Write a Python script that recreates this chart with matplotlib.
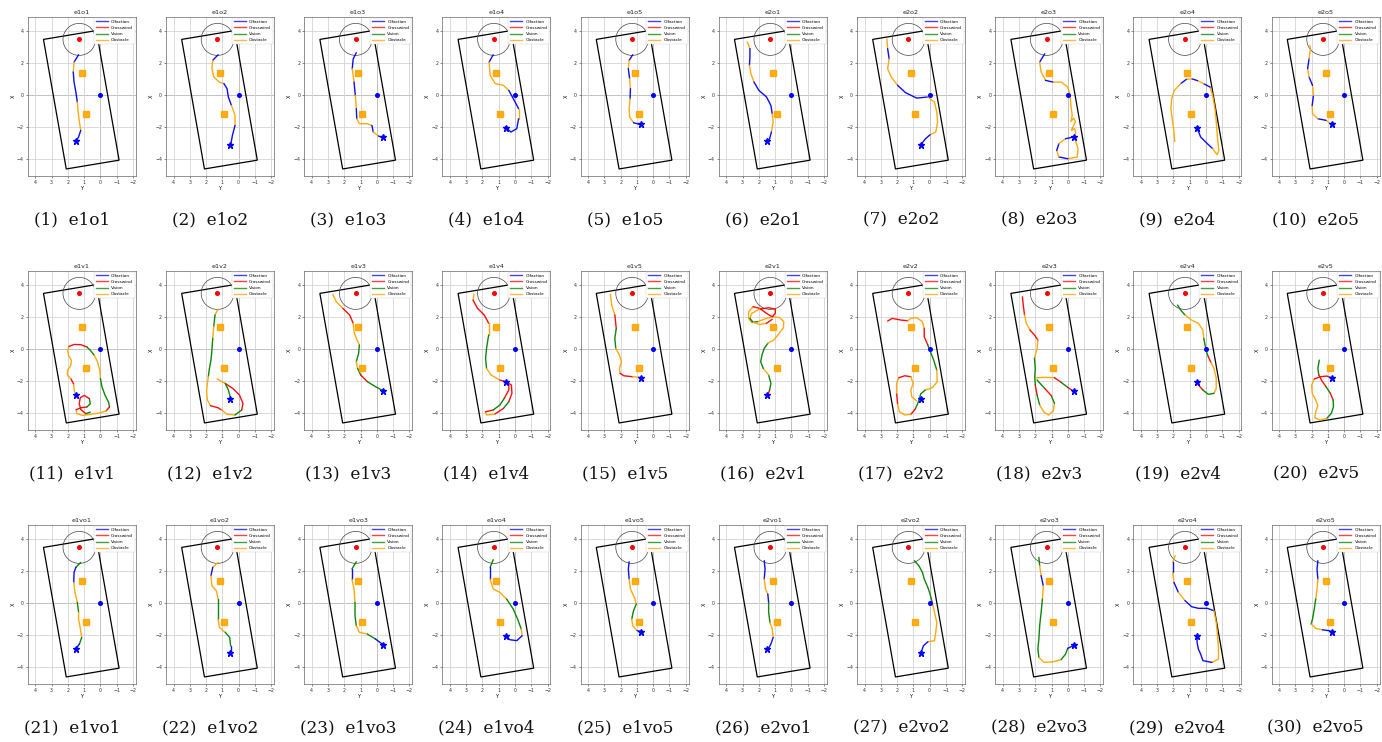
import matplotlib
matplotlib.use("Agg")
import matplotlib.pyplot as plt
from matplotlib.patches import Polygon, Circle
from matplotlib.lines import Line2D

# ---------------- data ----------------
panel_names = ["e1o1", "e1o2", "e1o3", "e1o4", "e1o5", "e2o1", "e2o2", "e2o3", "e2o4", "e2o5",
               "e1v1", "e1v2", "e1v3", "e1v4", "e1v5", "e2v1", "e2v2", "e2v3", "e2v4", "e2v5",
               "e1vo1", "e1vo2", "e1vo3", "e1vo4", "e1vo5", "e2vo1", "e2vo2", "e2vo3", "e2vo4", "e2vo5"]

arena_y = [3.5, 0.25, -1.15, 2.1]
arena_x = [3.5, 4.05, -4.05, -4.6]
source_y, source_x = 1.3, 3.5
source_radius = 1.0
origin_y, origin_x = 0.0, 0.0
obstacle_y = [1.15, 0.9]
obstacle_x = [1.4, -1.15]
start_y = [1.5, 0.5, -0.4, 0.57, 0.72]
start_x = [-2.88, -3.1, -2.63, -2.02, -1.8]

legend_labels = ["Olfaction", "Crosswind", "Vision", "Obstacle"]
legend_codes = ["b", "r", "g", "o"]
behaviour_colors = {"b": "#0000ff", "r": "#ff0000", "g": "#008000", "o": "#ffa500"}

x_ticks = [4, 3, 2, 1, 0, -1, -2]
y_ticks = [-4, -2, 0, 2, 4]

# trajectories: (Y, X) points, behaviour code per segment
e1o1_path = [(1.34, 2.54), (1.62, 2.08), (1.67, 1.46), (1.62, 0.83), (1.51, 0.21), (1.42, -0.42),
             (1.37, -1.04), (1.29, -1.67), (1.21, -2.19), (1.34, -2.6), (1.51, -2.88)]
e1o1_beh = "bobbbooobb"
e1o2_path = [(1.26, 2.54), (1.59, 2.19), (1.64, 1.67), (1.53, 1.15), (1.18, 0.83), (0.9, 0.73),
             (0.71, 0.42), (0.63, -0.1), (0.44, -0.63), (0.22, -1.25), (0.22, -1.88), (0.38, -2.5),
             (0.49, -3.13)]
e1o2_beh = "boooobbboobb"
e1o3_path = [(1.26, 2.67), (1.45, 2.29), (1.51, 1.67), (1.4, 0.83), (1.32, 0.0), (1.26, -0.83),
             (1.23, -1.46), (1.07, -1.77), (0.58, -1.77), (0.3, -1.88), (0.22, -2.29), (-0.11, -2.54),
             (-0.41, -2.67)]
e1o3_beh = "bbobobooobob"
e1o4_path = [(1.34, 2.54), (1.59, 2.08), (1.53, 1.25), (1.21, 0.73), (0.71, 0.63), (0.38, 0.31),
             (0.16, -0.1), (-0.03, -0.46), (-0.22, -0.83), (-0.22, -1.46), (-0.11, -2.08), (0.25, -2.29),
             (0.6, -1.98)]
e1o4_beh = "boooobbbobbb"
e1o5_path = [(1.26, 2.54), (1.48, 2.19), (1.53, 1.67), (1.45, 1.04), (1.4, 0.42), (1.42, -0.21),
             (1.48, -0.83), (1.45, -1.35), (1.21, -1.71), (0.77, -1.83)]
e1o5_beh = "bobobooob"
e2o1_path = [(2.71, 3.33), (2.55, 2.92), (2.55, 2.4), (2.58, 1.88), (2.49, 1.35), (2.3, 0.83),
             (2.0, 0.31), (1.53, -0.1), (1.26, -0.63), (1.18, -1.15), (1.12, -1.67), (1.23, -2.29),
             (1.34, -2.71), (1.48, -2.92)]
e2o1_beh = "obboobbbboobb"
e2o2_path = [(2.63, 3.54), (2.58, 2.92), (2.49, 2.29), (2.58, 1.67), (2.36, 1.15), (1.97, 0.63),
             (1.48, 0.17), (0.79, -0.17), (0.11, -0.1), (-0.3, -0.42), (-0.44, -1.04), (-0.49, -1.67),
             (-0.38, -2.29), (-0.03, -2.46), (0.25, -2.71), (0.58, -3.13)]
e2o2_beh = "obooobbbooooobb"
e2o3_path = [(1.42, 2.6), (1.73, 2.08), (1.64, 1.46), (1.37, 0.94), (0.9, 0.83), (0.41, 0.83),
             (0.0, 0.52), (-0.14, 0.0), (-0.19, -0.63), (-0.27, -1.25), (-0.19, -1.63), (-0.36, -1.42),
             (-0.47, -1.63), (-0.36, -1.88), (-0.22, -2.19), (-0.41, -2.08), (-0.49, -2.29), (-0.41, -2.6),
             (-0.63, -3.33), (-0.58, -3.85), (0.0, -3.96), (0.55, -3.85), (0.68, -3.44), (0.55, -3.02),
             (0.14, -2.71), (-0.36, -2.6)]
e2o3_beh = "boob" + "oooooooooooooo" + "oobobob"
e2o4_path = [(0.55, -2.04), (0.33, -2.6), (-0.08, -3.02), (-0.41, -3.33), (-0.68, -3.71), (-0.79, -3.44),
             (-0.71, -2.71), (-0.63, -1.67), (-0.55, -0.83), (-0.41, 0.0), (-0.25, 0.52), (0.14, 0.73),
             (0.52, 0.92), (0.88, 1.04), (1.21, 1.0), (1.56, 0.73), (1.95, 0.31), (2.11, -0.21),
             (2.16, -0.83), (2.08, -1.46), (1.97, -2.29), (1.92, -2.88)]
e2o4_beh = "bbboooooooboboboooooo"
e2o5_path = [(0.74, -1.83), (1.12, -1.56), (1.62, -1.46), (1.95, -1.15), (1.97, -0.63), (1.89, 0.0),
             (1.95, 0.63), (2.16, 1.15), (2.25, 1.67), (2.16, 2.29), (2.08, 2.92), (2.11, 3.13)]
e2o5_beh = "obooboboboo"

e1v1_path = [(1.51, -2.88), (1.61, -2.56), (1.65, -2.15), (1.82, -1.83), (2.02, -1.63), (2.02, -1.31),
             (1.82, -1.0), (1.78, -0.69), (1.96, -0.38), (2.02, -0.06), (1.92, 0.19), (1.61, 0.31),
             (1.2, 0.29), (0.83, 0.15), (0.62, -0.06), (0.37, -0.38), (0.17, -0.79), (0.04, -1.31),
             (0.0, -1.83), (-0.1, -2.35), (-0.29, -2.88), (-0.5, -3.29), (-0.56, -3.6), (-0.35, -3.85),
             (0.06, -3.98), (0.58, -4.06), (1.1, -4.13), (1.45, -4.02), (1.49, -3.77), (1.2, -3.65),
             (0.83, -3.6), (0.62, -3.4), (0.68, -3.08), (0.99, -2.88), (1.24, -3.02), (1.3, -3.4),
             (1.2, -3.77), (0.89, -4.02), (0.62, -3.92)]
e1v1_beh = "oorooooooorrrggooogggg" + "rooooorrggrrrrrg"
e1v2_path = [(1.26, 2.52), (1.45, 2.15), (1.53, 1.42), (1.59, 0.69), (1.64, -0.04), (1.7, -0.67),
             (1.81, -1.29), (1.86, -1.71), (1.92, -2.13), (1.97, -2.65), (1.92, -3.17), (1.73, -3.52),
             (1.26, -3.65), (1.04, -3.79), (0.71, -4.06), (0.22, -4.1), (-0.19, -3.79), (-0.27, -3.38),
             (-0.05, -2.85), (0.36, -2.44), (0.82, -2.13), (1.32, -1.85)]
e1v2_beh = "ogogggg" + "oooo" + "rr" + "oo" + "g" + "rrrr" + "o"
e1v2_path2 = [(0.82, -2.13), (0.63, -2.54), (0.49, -3.06)]
e1v2_beh2 = "gg"
e1v3_path = [(2.71, 3.44), (2.49, 2.98), (2.08, 2.56), (1.67, 2.15), (1.45, 1.63), (1.4, 1.1),
             (1.26, 0.69), (1.07, 0.27), (1.12, -0.25), (1.26, -0.77), (1.18, -1.19), (0.99, -1.6),
             (0.58, -2.02), (0.08, -2.33), (-0.41, -2.6)]
e1v3_beh = "oorroooggogrgg"
e1v4_path = [(2.52, 3.44), (2.58, 3.08), (2.3, 2.56), (1.89, 2.15), (1.62, 1.63), (1.62, 0.9),
             (1.75, 0.06), (1.81, -0.56), (1.75, -1.19), (1.48, -1.6), (0.93, -1.92), (0.55, -2.02),
             (0.22, -2.23), (0.19, -2.75), (0.38, -3.27), (0.71, -3.69), (1.26, -4.06), (1.75, -4.1),
             (1.81, -3.9), (1.34, -3.79), (0.93, -3.48), (0.66, -3.06), (0.38, -2.54), (0.38, -2.23)]
e1v4_beh = "orrrogggoorrrrgroorggrr"
e1v5_path = [(2.63, 3.44), (2.55, 2.77), (2.36, 2.15), (2.27, 1.31), (2.36, 0.69), (2.3, 0.06),
             (2.08, -0.35), (1.95, -0.77), (2.08, -1.19), (2.03, -1.5), (1.81, -1.65), (1.26, -1.71),
             (0.71, -1.75)]
e1v5_beh = "oorggoooorro"
e2v1_path = [(1.48, -2.92), (1.34, -2.54), (1.26, -2.13), (1.4, -1.6), (1.73, -1.19), (1.89, -0.77),
             (1.81, -0.35), (1.67, 0.06), (1.45, 0.38), (1.07, 0.6), (0.71, 1.06), (0.49, 1.35),
             (0.47, 1.73), (0.71, 1.98), (1.12, 2.04), (1.53, 1.94), (2.08, 1.73), (2.44, 1.69),
             (2.63, 1.94), (2.63, 2.35), (2.36, 2.67), (1.95, 2.56), (1.53, 2.25), (1.18, 2.04),
             (0.99, 2.25), (0.99, 2.52), (1.4, 2.6), (1.95, 2.52), (2.44, 2.25), (2.55, 1.94),
             (2.36, 1.69), (1.95, 1.56), (1.53, 1.63), (1.18, 1.88)]
e2v1_beh = "rggoggggoooooooogooorrrrrrroogoor"
e2v2_path = [(2.58, 1.77), (2.3, 1.94), (1.75, 1.83), (1.34, 1.79), (1.15, 1.94), (0.79, 1.98),
             (0.44, 1.73), (0.33, 1.31), (0.33, 0.79), (0.11, 0.27), (-0.05, -0.15), (-0.25, -0.67),
             (-0.44, -1.29), (-0.47, -2.02), (-0.16, -2.4), (0.27, -2.54), (0.55, -2.79), (0.66, -3.21),
             (0.88, -3.73), (1.15, -4.06), (1.53, -4.1), (1.86, -3.9), (1.97, -3.38), (2.03, -2.75),
             (2.03, -2.13), (1.89, -1.77), (1.53, -1.65), (1.15, -1.71), (1.01, -2.13), (1.15, -2.54),
             (1.1, -2.96), (0.79, -3.23)]
e2v2_beh = "rrroooorrgggooogggroooroorroooo"
e2v3_path = [(2.79, 3.29), (2.74, 2.77), (2.66, 2.15), (2.55, 1.63), (2.33, 1.21), (2.05, 0.9),
             (1.84, 0.58), (1.89, 0.06), (2.05, -0.56), (2.0, -1.19), (2.03, -1.71), (2.0, -2.23),
             (1.89, -2.85), (1.73, -3.48), (1.45, -3.94), (1.18, -4.1), (0.9, -3.85), (0.82, -3.38),
             (1.01, -2.9), (1.42, -2.44), (1.89, -1.92)]
e2v3_beh = "rroorroogggrgoooogrg"
e2v3_path2 = [(1.92, -1.77), (1.37, -1.75), (0.82, -1.77), (0.41, -2.06), (0.0, -2.38), (-0.41, -2.65)]
e2v3_beh2 = "oorgr"
e2v4_path = [(1.75, 2.77), (1.56, 2.46), (1.29, 2.15), (0.88, 1.83), (0.47, 1.63), (0.19, 1.21),
             (0.14, 0.69), (0.05, 0.23), (-0.03, -0.15), (-0.14, -0.46), (-0.3, -0.81), (-0.49, -1.19),
             (-0.63, -1.81), (-0.63, -2.44), (-0.49, -2.75), (-0.14, -2.81), (0.19, -2.54), (0.47, -2.23),
             (0.6, -2.02)]
e2v4_beh = "ggoooogggrooooggrr"
e2v5_path = [(1.53, -0.67), (1.62, -1.19), (1.56, -1.6), (1.4, -1.92), (1.12, -2.33), (0.85, -2.75),
             (0.68, -3.17), (0.66, -3.58), (0.79, -4.0), (1.07, -4.31), (1.48, -4.42), (1.81, -4.27),
             (1.75, -3.9), (1.62, -3.52), (1.75, -3.17), (1.97, -2.75), (2.0, -2.23), (1.84, -1.85),
             (1.48, -1.71), (1.07, -1.67), (0.66, -1.81)]
e2v5_beh = "ggrrgrgggoooooooorrr"

e1vo1_path = [(1.21, 2.56), (1.51, 2.25), (1.62, 1.94), (1.64, 1.31), (1.56, 0.69), (1.42, 0.06),
              (1.34, -0.56), (1.34, -0.98), (1.23, -1.6), (1.15, -2.13), (1.29, -2.54), (1.51, -2.85)]
e1vo1_beh = "gbboogooogb"
e1vo2_path = [(1.26, 2.56), (1.59, 2.25), (1.7, 1.73), (1.64, 1.1), (1.37, 0.79), (1.26, 0.27),
              (1.26, -0.35), (1.26, -0.98), (1.18, -1.5), (0.82, -1.81), (0.55, -2.13), (0.49, -2.65),
              (0.49, -3.1)]
e1vo2_beh = "oboooggooggb"
e1vo3_path = [(1.26, 2.6), (1.53, 2.15), (1.53, 1.52), (1.4, 0.9), (1.34, 0.06), (1.34, -0.77),
              (1.26, -1.4), (1.07, -1.81), (0.58, -1.92), (0.08, -2.23), (-0.41, -2.6)]
e1vo3_beh = "gbooggoogb"
e1vo4_path = [(1.34, 2.73), (1.53, 2.25), (1.53, 1.52), (1.34, 0.9), (0.93, 0.69), (0.52, 0.27),
              (0.11, -0.35), (-0.16, -0.98), (-0.38, -1.6), (-0.44, -2.02), (-0.11, -2.33), (0.33, -2.27),
              (0.52, -2.02)]
e1vo4_beh = "gbooogggobbb"
e1vo5_path = [(1.48, 2.6), (1.53, 2.15), (1.48, 1.52), (1.4, 0.9), (1.12, 0.27), (1.04, -0.04),
              (1.21, -0.46), (1.32, -0.98), (1.26, -1.4), (0.99, -1.71), (0.66, -1.77)]
e1vo5_beh = "bboooggoob"
e2vo1_path = [(1.67, 2.67), (1.62, 2.15), (1.67, 1.52), (1.59, 0.9), (1.45, 0.58), (1.4, 0.06),
              (1.4, -0.56), (1.32, -1.19), (1.18, -1.6), (1.12, -2.13), (1.26, -2.54), (1.45, -2.9)]
e2vo1_beh = "bboobggoobb"
e2vo2_path = [(0.93, 2.67), (0.66, 2.35), (0.44, 1.94), (0.33, 1.52), (0.11, 1.0), (-0.03, 0.58),
              (-0.16, 0.06), (-0.3, -0.56), (-0.44, -1.19), (-0.38, -1.81), (-0.3, -2.33), (0.11, -2.4),
              (0.38, -2.65), (0.52, -3.06)]
e2vo2_beh = "ggggggooooobb"
e2vo3_path = [(1.78, 2.88), (1.73, 2.35), (1.64, 1.73), (1.51, 1.1), (1.56, 0.27), (1.64, -0.56),
              (1.73, -1.4), (1.78, -2.23), (1.84, -2.85), (1.78, -3.38), (1.45, -3.69), (0.9, -3.65),
              (0.41, -3.52), (0.14, -3.17), (0.0, -2.81), (-0.41, -2.6)]
e2vo3_beh = "gobogggggoooggb"
e2vo4_path = [(1.89, 2.98), (2.05, 2.56), (2.05, 1.94), (1.97, 1.31), (1.7, 0.69), (1.29, 0.17),
              (0.88, -0.21), (0.47, -0.31), (-0.08, -0.31), (-0.49, -0.46), (-0.63, -1.19), (-0.71, -2.02),
              (-0.77, -2.85), (-0.77, -3.48), (-0.36, -3.69), (0.19, -3.58), (0.33, -3.17), (0.47, -2.85),
              (0.55, -2.44), (0.55, -2.02)]
e2vo4_beh = "obobobbbbooooobbbbb"
e2vo5_path = [(1.62, 2.67), (1.67, 2.15), (1.62, 1.52), (1.67, 0.9), (1.75, 0.27), (1.84, -0.35),
              (1.95, -0.98), (2.03, -1.29), (1.75, -1.56), (1.34, -1.65), (0.93, -1.71), (0.66, -1.81)]
e2vo5_beh = "bboogggoobb"

trajectories = {
    "e1o1": [(e1o1_path, e1o1_beh)], "e1o2": [(e1o2_path, e1o2_beh)],
    "e1o3": [(e1o3_path, e1o3_beh)], "e1o4": [(e1o4_path, e1o4_beh)],
    "e1o5": [(e1o5_path, e1o5_beh)], "e2o1": [(e2o1_path, e2o1_beh)],
    "e2o2": [(e2o2_path, e2o2_beh)], "e2o3": [(e2o3_path, e2o3_beh)],
    "e2o4": [(e2o4_path, e2o4_beh)], "e2o5": [(e2o5_path, e2o5_beh)],
    "e1v1": [(e1v1_path, e1v1_beh)], "e1v2": [(e1v2_path, e1v2_beh), (e1v2_path2, e1v2_beh2)],
    "e1v3": [(e1v3_path, e1v3_beh)], "e1v4": [(e1v4_path, e1v4_beh)],
    "e1v5": [(e1v5_path, e1v5_beh)], "e2v1": [(e2v1_path, e2v1_beh)],
    "e2v2": [(e2v2_path, e2v2_beh)], "e2v3": [(e2v3_path, e2v3_beh), (e2v3_path2, e2v3_beh2)],
    "e2v4": [(e2v4_path, e2v4_beh)], "e2v5": [(e2v5_path, e2v5_beh)],
    "e1vo1": [(e1vo1_path, e1vo1_beh)], "e1vo2": [(e1vo2_path, e1vo2_beh)],
    "e1vo3": [(e1vo3_path, e1vo3_beh)], "e1vo4": [(e1vo4_path, e1vo4_beh)],
    "e1vo5": [(e1vo5_path, e1vo5_beh)], "e2vo1": [(e2vo1_path, e2vo1_beh)],
    "e2vo2": [(e2vo2_path, e2vo2_beh)], "e2vo3": [(e2vo3_path, e2vo3_beh)],
    "e2vo4": [(e2vo4_path, e2vo4_beh)], "e2vo5": [(e2vo5_path, e2vo5_beh)],
}

# ---------------- layout ----------------
W, H = 1382, 742
fig = plt.figure(figsize=(W / 100, H / 100), dpi=100)
fig.patch.set_facecolor("white")

ax_w, ax_h = 108, 159
col_pitch, row_pitch = 138.2, 254
ax_left0, ax_top0 = 27.7, 17


def draw_segments(ax, path, beh):
    n = len(path) - 1
    codes = [beh[min(i, len(beh) - 1)] for i in range(n)]
    i = 0
    while i < n:
        j = i
        while j + 1 < n and codes[j + 1] == codes[i]:
            j += 1
        pts = path[i:j + 2]
        ax.plot([p[0] for p in pts], [p[1] for p in pts], color=behaviour_colors[codes[i]],
                lw=1.0, solid_capstyle="round", solid_joinstyle="round", zorder=4, alpha=0.95)
        i = j + 1


for k, name in enumerate(panel_names):
    r, c = divmod(k, 10)
    left = ax_left0 + col_pitch * c
    top = ax_top0 + row_pitch * r
    ax = fig.add_axes([left / W, 1 - (top + ax_h) / H, ax_w / W, ax_h / H])
    ax.set_xlim(4.47, -2.17)
    ax.set_ylim(-5.04, 4.9)
    ax.set_xticks(x_ticks)
    ax.set_yticks(y_ticks)
    ax.tick_params(labelsize=3.4, length=1.5, width=0.4, pad=1.2, colors="#333333")
    ax.grid(True, color="#d4d4d4", lw=0.6, zorder=0)
    for s in ax.spines.values():
        s.set_linewidth(0.5)
        s.set_color("#666666")
    ax.axhline(0, color="#555555", lw=0.6, zorder=1)
    ax.axvline(0, color="#555555", lw=0.6, zorder=1)
    ax.set_title(name, fontsize=4.6, pad=2.0, color="#222222")
    ax.set_xlabel("Y", fontsize=3.6, labelpad=1.0)
    ax.set_ylabel("X", fontsize=3.6, labelpad=1.0)

    ax.add_patch(Polygon(list(zip(arena_y, arena_x)), closed=True, fill=False,
                         edgecolor="black", lw=0.9, zorder=2))
    ax.add_patch(Circle((source_y, source_x), source_radius, fill=False,
                        edgecolor="#444444", lw=0.5, zorder=2))

    for path, beh in trajectories[name]:
        draw_segments(ax, path, beh)

    ax.plot(source_y, source_x, "o", color="red", ms=2.6, zorder=6)
    ax.plot(origin_y, origin_x, "o", color="blue", ms=2.6, zorder=6)
    ax.plot(obstacle_y, obstacle_x, "s", color="orange", ms=4.6, alpha=0.9, ls="none", zorder=5)
    ax.plot(start_y[c % 5], start_x[c % 5], "*", color="blue", ms=4.6, zorder=7)

    handles = [Line2D([0], [0], color=behaviour_colors[cd], lw=1.0, alpha=0.75) for cd in legend_codes]
    leg = ax.legend(handles, legend_labels, loc="upper right", fontsize=3.1, frameon=True,
                    handlelength=2.8, handletextpad=0.8, borderpad=0.45, labelspacing=0.5,
                    borderaxespad=0.2, fancybox=False, framealpha=1.0)
    leg.get_frame().set_linewidth(0.3)
    leg.get_frame().set_edgecolor("#cccccc")

    cap_x = 72 + col_pitch * c
    cap_y = 220 + row_pitch * r
    fig.text(cap_x / W, 1 - cap_y / H, f"({k + 1})  {name}", ha="center", va="center",
             fontsize=12.2, family="DejaVu Serif", color="#111111")

fig.savefig("out.png", dpi=100, facecolor="white")
